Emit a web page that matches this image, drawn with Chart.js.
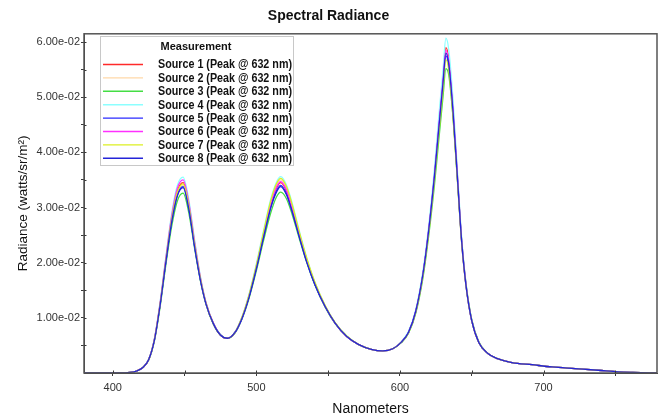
<!DOCTYPE html>
<html>
<head>
<meta charset="utf-8">
<script src="https://cdn.jsdelivr.net/npm/chart.js@4/dist/chart.umd.min.js"></script>
<style>
  html, body { margin: 0; padding: 0; background: #fff; }
  canvas { display: block; }
</style>
</head>
<body>
<canvas id="radiance-chart" width="664" height="420"></canvas>
<script>
// wavelengths (nm) shared by every source
const wavelengths = [
  380, 405, 412, 417, 421, 425, 429, 433, 437, 441,
  445, 449, 453, 457, 461, 465, 470, 475, 480, 485,
  490, 495, 500, 505, 510, 514, 517, 521, 525, 530,
  535, 541, 548, 555, 563, 571, 580, 588, 595, 601,
  606, 611, 616, 620, 624, 627, 630, 632, 634, 637,
  640, 643, 646, 650, 655, 661, 668, 678, 692, 706,
  722, 738, 752, 762, 779,
];

const source1 = [
  0, 0, 0.0001, 0.0004, 0.0010, 0.0024, 0.0060, 0.0125, 0.0205, 0.0280,
  0.0330, 0.0345, 0.0305, 0.0235, 0.0172, 0.0126, 0.0090, 0.0069, 0.0063, 0.0073,
  0.0100, 0.0140, 0.0192, 0.0250, 0.0305, 0.0335, 0.0345, 0.0330, 0.0298, 0.0250,
  0.0205, 0.0160, 0.0120, 0.0090, 0.0066, 0.0052, 0.0043, 0.0040, 0.0044, 0.0056,
  0.0074, 0.0112, 0.0180, 0.0260, 0.0360, 0.0450, 0.0535, 0.0590, 0.0570, 0.0480,
  0.0360, 0.0240, 0.0160, 0.0095, 0.0055, 0.0036, 0.0026, 0.0019, 0.0015, 0.0011,
  0.0008, 0.0005, 0.0002, 0.0001, 0,
];
const source2 = [
  0, 0, 0.0001, 0.0004, 0.0010, 0.0024, 0.0060, 0.0124, 0.0203, 0.0276,
  0.0325, 0.0340, 0.0301, 0.0232, 0.0171, 0.0126, 0.0090, 0.0069, 0.0063, 0.0073,
  0.0100, 0.0141, 0.0194, 0.0253, 0.0309, 0.0340, 0.0350, 0.0335, 0.0302, 0.0253,
  0.0207, 0.0161, 0.0121, 0.0090, 0.0066, 0.0052, 0.0043, 0.0040, 0.0044, 0.0056,
  0.0074, 0.0112, 0.0179, 0.0258, 0.0356, 0.0444, 0.0528, 0.0582, 0.0562, 0.0473,
  0.0356, 0.0238, 0.0159, 0.0095, 0.0055, 0.0036, 0.0026, 0.0019, 0.0015, 0.0011,
  0.0008, 0.0005, 0.0002, 0.0001, 0,
];
const source3 = [
  0, 0, 0.0001, 0.0004, 0.0010, 0.0023, 0.0058, 0.0120, 0.0196, 0.0265,
  0.0312, 0.0326, 0.0290, 0.0226, 0.0168, 0.0124, 0.0089, 0.0069, 0.0063, 0.0072,
  0.0098, 0.0136, 0.0185, 0.0240, 0.0290, 0.0319, 0.0328, 0.0316, 0.0287, 0.0243,
  0.0201, 0.0158, 0.0119, 0.0089, 0.0066, 0.0052, 0.0043, 0.0040, 0.0044, 0.0055,
  0.0072, 0.0108, 0.0172, 0.0248, 0.0340, 0.0421, 0.0501, 0.0552, 0.0540, 0.0462,
  0.0352, 0.0240, 0.0162, 0.0097, 0.0056, 0.0036, 0.0026, 0.0019, 0.0015, 0.0011,
  0.0008, 0.0005, 0.0002, 0.0001, 0,
];
const source4 = [
  0, 0, 0.0001, 0.0004, 0.0010, 0.0025, 0.0062, 0.0129, 0.0211, 0.0288,
  0.0340, 0.0355, 0.0314, 0.0242, 0.0176, 0.0128, 0.0091, 0.0070, 0.0063, 0.0074,
  0.0102, 0.0144, 0.0198, 0.0258, 0.0315, 0.0346, 0.0356, 0.0341, 0.0308, 0.0257,
  0.0210, 0.0163, 0.0122, 0.0091, 0.0067, 0.0052, 0.0043, 0.0040, 0.0044, 0.0057,
  0.0076, 0.0115, 0.0185, 0.0267, 0.0370, 0.0463, 0.0550, 0.0607, 0.0586, 0.0494,
  0.0368, 0.0245, 0.0162, 0.0096, 0.0055, 0.0036, 0.0026, 0.0019, 0.0015, 0.0011,
  0.0008, 0.0005, 0.0002, 0.0001, 0,
];
const source5 = [
  0, 0, 0.0001, 0.0004, 0.0010, 0.0024, 0.0060, 0.0124, 0.0202, 0.0274,
  0.0323, 0.0338, 0.0299, 0.0230, 0.0170, 0.0125, 0.0090, 0.0069, 0.0063, 0.0073,
  0.0099, 0.0139, 0.0190, 0.0247, 0.0301, 0.0330, 0.0340, 0.0325, 0.0294, 0.0247,
  0.0203, 0.0159, 0.0120, 0.0090, 0.0066, 0.0052, 0.0043, 0.0040, 0.0044, 0.0056,
  0.0074, 0.0111, 0.0178, 0.0257, 0.0354, 0.0439, 0.0522, 0.0575, 0.0556, 0.0468,
  0.0352, 0.0236, 0.0158, 0.0094, 0.0055, 0.0036, 0.0026, 0.0019, 0.0015, 0.0011,
  0.0008, 0.0005, 0.0002, 0.0001, 0,
];
const source6 = [
  0, 0, 0.0001, 0.0004, 0.0010, 0.0024, 0.0061, 0.0127, 0.0208, 0.0284,
  0.0335, 0.0350, 0.0309, 0.0238, 0.0174, 0.0127, 0.0091, 0.0069, 0.0063, 0.0073,
  0.0100, 0.0141, 0.0193, 0.0251, 0.0307, 0.0337, 0.0347, 0.0332, 0.0300, 0.0252,
  0.0206, 0.0161, 0.0121, 0.0090, 0.0066, 0.0052, 0.0043, 0.0040, 0.0044, 0.0056,
  0.0074, 0.0112, 0.0179, 0.0259, 0.0358, 0.0446, 0.0531, 0.0585, 0.0565, 0.0476,
  0.0358, 0.0239, 0.0160, 0.0095, 0.0055, 0.0036, 0.0026, 0.0019, 0.0015, 0.0011,
  0.0008, 0.0005, 0.0002, 0.0001, 0,
];
const source7 = [
  0, 0, 0.0001, 0.0004, 0.0010, 0.0024, 0.0060, 0.0125, 0.0204, 0.0278,
  0.0328, 0.0343, 0.0303, 0.0234, 0.0172, 0.0126, 0.0090, 0.0069, 0.0063, 0.0073,
  0.0101, 0.0142, 0.0195, 0.0255, 0.0312, 0.0343, 0.0353, 0.0338, 0.0305, 0.0255,
  0.0209, 0.0163, 0.0122, 0.0091, 0.0067, 0.0052, 0.0043, 0.0040, 0.0044, 0.0056,
  0.0073, 0.0110, 0.0176, 0.0253, 0.0349, 0.0433, 0.0515, 0.0568, 0.0549, 0.0462,
  0.0349, 0.0235, 0.0158, 0.0095, 0.0055, 0.0036, 0.0026, 0.0019, 0.0015, 0.0011,
  0.0008, 0.0005, 0.0002, 0.0001, 0,
];
const source8 = [
  0, 0, 0.0001, 0.0004, 0.0010, 0.0024, 0.0059, 0.0123, 0.0201, 0.0273,
  0.0321, 0.0336, 0.0297, 0.0229, 0.0169, 0.0125, 0.0090, 0.0069, 0.0063, 0.0073,
  0.0099, 0.0138, 0.0189, 0.0246, 0.0299, 0.0328, 0.0338, 0.0323, 0.0292, 0.0246,
  0.0202, 0.0159, 0.0120, 0.0090, 0.0066, 0.0052, 0.0043, 0.0040, 0.0044, 0.0056,
  0.0074, 0.0112, 0.0179, 0.0258, 0.0356, 0.0442, 0.0526, 0.0580, 0.0560, 0.0472,
  0.0355, 0.0238, 0.0159, 0.0095, 0.0055, 0.0036, 0.0026, 0.0019, 0.0015, 0.0011,
  0.0008, 0.0005, 0.0002, 0.0001, 0,
];

const seriesNames = [
  "Source 1 (Peak @ 632 nm)",
  "Source 2 (Peak @ 632 nm)",
  "Source 3 (Peak @ 632 nm)",
  "Source 4 (Peak @ 632 nm)",
  "Source 5 (Peak @ 632 nm)",
  "Source 6 (Peak @ 632 nm)",
  "Source 7 (Peak @ 632 nm)",
  "Source 8 (Peak @ 632 nm)",
];
const seriesValues = [source1, source2, source3, source4, source5, source6, source7, source8];
const seriesColors = ["#ff2a2a", "#ffd8a8", "#44dd44", "#8cffff", "#2a2aff", "#ff30ff", "#dcef22", "#2424d8"];

const xTicks = [400, 450, 500, 550, 600, 650, 700, 750];
const xTickLabels = ["400", "", "500", "", "600", "", "700", ""];
const yTicks = [0.005, 0.01, 0.015, 0.02, 0.025, 0.03, 0.035, 0.04, 0.045, 0.05, 0.055, 0.06];
const yTickLabels = ["", "1.00e-02", "", "2.00e-02", "", "3.00e-02", "", "4.00e-02", "", "5.00e-02", "", "6.00e-02"];

const Config = {
  colors: {
    text: "#333333",
    title: "#111111",
    axis: "#3a3a3a",
    frame: "#555555",
    legendBorder: "#c8c8c8",
  },
  font: `"Liberation Sans", Arial, sans-serif`,
  legend: { x: 100.5, y: 36.5, w: 193, h: 129, rowTop: 64.5, rowGap: 13.4 },
};

// box around the plot plus little inward tick stubs
const framePlugin = {
  id: "frame",
  afterDraw(chart) {
    const { ctx, chartArea: a, scales } = chart;
    ctx.save();
    ctx.strokeStyle = Config.colors.frame;
    ctx.lineWidth = 1.5;
    ctx.strokeRect(a.left, a.top, a.right - a.left, a.bottom - a.top);
    ctx.strokeStyle = Config.colors.axis;
    ctx.lineWidth = 1;
    ctx.beginPath();
    scales.x.ticks.forEach((t) => {
      const px = Math.round(scales.x.getPixelForValue(t.value)) + 0.5;
      ctx.moveTo(px, a.bottom);
      ctx.lineTo(px, a.bottom - 2.5);
    });
    scales.y.ticks.forEach((t) => {
      const py = Math.round(scales.y.getPixelForValue(t.value)) + 0.5;
      ctx.moveTo(a.left, py);
      ctx.lineTo(a.left + 2.5, py);
    });
    ctx.stroke();
    ctx.restore();
  },
};

// boxed legend in the upper left of the plot
const legendBoxPlugin = {
  id: "legendBox",
  afterDatasetsDraw(chart) {
    const { ctx } = chart;
    const L = Config.legend;
    ctx.save();
    ctx.fillStyle = "#ffffff";
    ctx.fillRect(L.x, L.y, L.w, L.h);
    ctx.strokeStyle = Config.colors.legendBorder;
    ctx.lineWidth = 1;
    ctx.strokeRect(L.x, L.y, L.w, L.h);

    ctx.fillStyle = Config.colors.title;
    ctx.textBaseline = "middle";
    ctx.textAlign = "center";
    ctx.font = `bold 11px ${Config.font}`;
    ctx.fillText("Measurement", 196, 47, 80);

    ctx.textAlign = "left";
    chart.data.datasets.forEach((ds, i) => {
      const y = L.rowTop + i * L.rowGap;
      ctx.strokeStyle = ds.borderColor;
      ctx.lineWidth = 1.4;
      ctx.beginPath();
      ctx.moveTo(103, y);
      ctx.lineTo(143, y);
      ctx.stroke();
      ctx.fillStyle = Config.colors.title;
      ctx.font = `bold 12px ${Config.font}`;
      ctx.fillText(ds.label, 158, y + 0.5, 134);
    });
    ctx.restore();
  },
};

const ctx = document.getElementById("radiance-chart");

new Chart(ctx, {
  type: "line",
  data: {
    datasets: seriesValues.map((values, i) => ({
      label: seriesNames[i],
      data: wavelengths.map((nm, j) => ({ x: nm, y: values[j] })),
      borderColor: seriesColors[i],
      backgroundColor: seriesColors[i],
      borderWidth: 1.3,
      pointRadius: 0,
      cubicInterpolationMode: "monotone",
      fill: false,
      order: seriesValues.length - 1 - i,
    })),
  },
  options: {
    responsive: false,
    animation: false,
    devicePixelRatio: 1,
    layout: { padding: { left: 0, right: 7, top: 0, bottom: 0 } },
    scales: {
      x: {
        type: "linear",
        min: 380,
        max: 779,
        afterBuildTicks: (scale) => {
          scale.ticks = xTicks.map((v) => ({ value: v }));
        },
        afterFit: (scale) => {
          scale.height = 47;
        },
        ticks: {
          autoSkip: false,
          maxRotation: 0,
          padding: 5,
          color: Config.colors.text,
          font: { size: 11, family: Config.font },
          callback: (value, index) => xTickLabels[index],
        },
        grid: {
          display: true,
          drawOnChartArea: false,
          drawTicks: true,
          tickLength: 3,
          color: Config.colors.axis,
        },
        border: { display: true, color: Config.colors.axis, width: 1 },
        title: {
          display: true,
          text: "Nanometers",
          color: Config.colors.title,
          padding: { top: 0, bottom: 2 },
          font: { size: 14, family: Config.font },
        },
      },
      y: {
        min: 0,
        max: 0.0615,
        afterBuildTicks: (scale) => {
          scale.ticks = yTicks.map((v) => ({ value: v }));
        },
        afterFit: (scale) => {
          scale.width = 84;
        },
        ticks: {
          autoSkip: false,
          padding: 1,
          color: Config.colors.text,
          font: { size: 11, family: Config.font },
          callback: (value, index) => yTickLabels[index],
        },
        grid: {
          display: true,
          drawOnChartArea: false,
          drawTicks: true,
          tickLength: 3,
          color: Config.colors.axis,
        },
        border: { display: true, color: Config.colors.axis, width: 1 },
        title: {
          display: true,
          text: "Radiance (watts/sr/m²)",
          color: Config.colors.title,
          padding: { top: 15, bottom: 0 },
          font: { size: 13.5, family: Config.font },
        },
      },
    },
    plugins: {
      legend: { display: false },
      tooltip: { enabled: false },
      title: {
        display: true,
        text: "Spectral Radiance",
        color: Config.colors.title,
        padding: { top: 8, bottom: 9 },
        font: { size: 14, weight: "bold", family: Config.font },
      },
    },
  },
  plugins: [framePlugin, legendBoxPlugin],
});
</script>
</body>
</html>
